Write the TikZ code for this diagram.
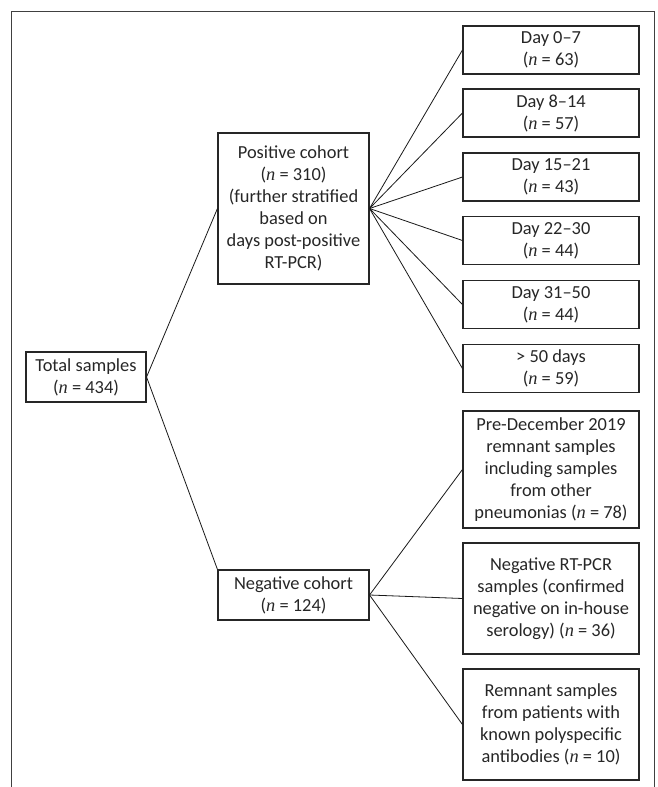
\documentclass[tikz,border=0pt]{standalone}
\usepackage{fontspec}
\setmainfont{Carlito}
\newfontfamily\nfont{Liberation Serif}
\usepackage{tikz}
\usetikzlibrary{positioning}
\newcommand{\nn}{{\nfont\itshape n}}

\begin{document}
\begin{tikzpicture}[x=1pt,y=-1pt,
  font=\fontsize{18.4}{22}\selectfont,
  every node/.style={draw=black!85,line width=1.1pt,align=center,inner sep=0pt,text=black!85},
  box/.style={minimum width=176pt},
  conn/.style={draw=black!90,line width=0.8pt}]
\useasboundingbox (0,0) rectangle (657,787);
\draw[black!75,line width=1pt] (11,787) -- (11,11) -- (654,11) -- (654,787);
\node[minimum width=120pt,minimum height=50pt] (tot) at (86,377) {Total samples\\(\nn{} = 434)};
\node[minimum width=151pt,minimum height=151pt] (pos) at (293.5,208.5) {Positive cohort\\(\nn{} = 310)\\(further stratified\\based on\\days post-positive\\RT-PCR)};
\node[minimum width=151pt,minimum height=50pt] (neg) at (293.5,595) {Negative cohort\\(\nn{} = 124)};
\node[box,minimum height=48pt] (d1) at (551,50) {Day 0--7\\(\nn{} = 63)};
\node[box,minimum height=48pt] (d2) at (551,113) {Day 8--14\\(\nn{} = 57)};
\node[box,minimum height=48pt] (d3) at (551,177) {Day 15--21\\(\nn{} = 43)};
\node[box,minimum height=48pt] (d4) at (551,240.5) {Day 22--30\\(\nn{} = 44)};
\node[box,minimum height=48pt] (d5) at (551,304.5) {Day 31--50\\(\nn{} = 44)};
\node[box,minimum height=48pt] (d6) at (551,368.5) {> 50 days\\(\nn{} = 59)};
\node[box,minimum height=117pt] (pre) at (551,469.5) {Pre-December 2019\\remnant samples\\including samples\\from other\\pneumonias (\nn{} = 78)};
\node[box,minimum height=111pt] (rt) at (551,598.5) {Negative RT-PCR\\samples (confirmed\\negative on in-house\\serology) (\nn{} = 36)};
\node[box,minimum height=111pt] (rem) at (551,724.5) {Remnant samples\\from patients with\\known polyspecific\\antibodies (\nn{} = 10)};
\draw[conn] (tot.east) -- (pos.west);
\draw[conn] (tot.east) -- (neg.north west);
\foreach \d in {d1,d2,d3,d4,d5,d6}
  \draw[conn] (pos.east) -- (\d.west);
\foreach \d in {pre,rt,rem}
  \draw[conn] (neg.east) -- (\d.west);
\end{tikzpicture}
\end{document}
